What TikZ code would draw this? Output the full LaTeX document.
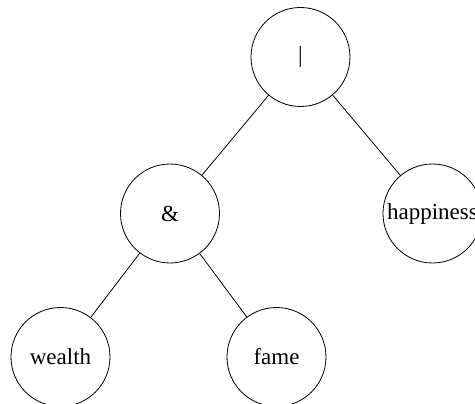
\documentclass[tikz,border=0pt]{standalone}
\usepackage{fontspec}
\setmainfont{Liberation Serif}
\usetikzlibrary{positioning}
\tikzset{
    opnode/.style = {circle,fill=none,draw=black,text=black,inner sep=0pt,minimum size=99pt,line width=0.8pt,font=\fontsize{23}{27}\selectfont},
    branch/.style = {-,line width=0.8pt}
}
\begin{document}
\begin{tikzpicture}[node distance=156.5pt]
        \useasboundingbox (-300.5pt,-347pt) rectangle (174.5pt,57pt);
        \node[opnode]  (root) []                                  {\textbar};
        \node[opnode]  (and)  [below of=root,xshift=-130.5pt]     {\&};
        \node[opnode]  (happ) [below of=root,xshift=132pt]        {happiness};
        \node[opnode]  (weal) [below of=and,node distance=143.5pt,xshift=-109.5pt] {wealth};
        \node[opnode]  (fame) [below of=and,node distance=143.5pt,xshift=106.5pt]  {fame};

        \path   [branch]
                (root) edge []  node {} (and)
                (root) edge []  node {} (happ)
                (and)  edge []  node {} (weal)
                (and)  edge []  node {} (fame);
\end{tikzpicture}
\end{document}
